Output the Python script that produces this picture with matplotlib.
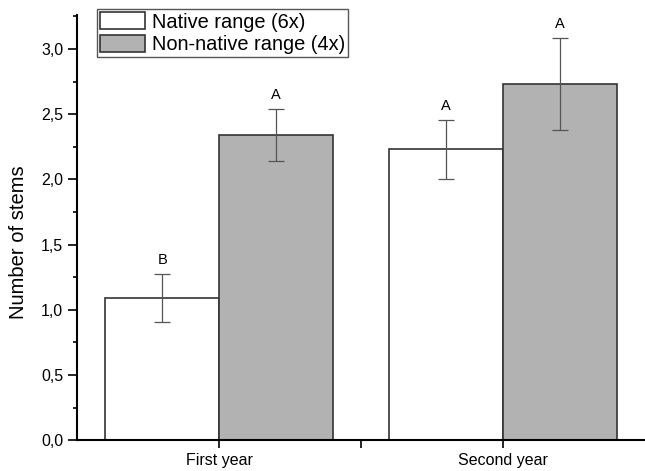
import matplotlib.pyplot as plt
from matplotlib.ticker import MultipleLocator, FuncFormatter

plt.rcParams['font.family'] = ['Liberation Sans', 'DejaVu Sans']

# data
years = ['First year', 'Second year']
native = [1.09, 2.23]
native_err = [0.187, 0.225]
nonnative = [2.34, 2.73]
nonnative_err = [0.199, 0.354]
native_letters = ['B', 'A']
nonnative_letters = ['A', 'A']

fig = plt.figure(figsize=(6.45, 4.71), dpi=100)
ax = fig.add_axes([77 / 645, 30.7 / 471, 568 / 645, 425.3 / 471])

x = [1, 2]
w = 0.4
xn = [i - w / 2 for i in x]
xo = [i + w / 2 for i in x]

ax.bar(xn, native, w, color='white', edgecolor='#333333', linewidth=1.2,
       label='Native range (6x)', zorder=2)
ax.bar(xo, nonnative, w, color='#b2b2b2', edgecolor='#333333', linewidth=1.2,
       label='Non-native range (4x)', zorder=2)

ekw = dict(fmt='none', ecolor='#555555', elinewidth=0.9, capsize=5.5, capthick=0.9, zorder=3)
ax.errorbar(xn, native, yerr=native_err, **ekw)
ax.errorbar(xo, nonnative, yerr=nonnative_err, **ekw)

# significance letters
for xs, ys, es, ls in [(xn, native, native_err, native_letters),
                       (xo, nonnative, nonnative_err, nonnative_letters)]:
    for xi, yi, ei, li in zip(xs, ys, es, ls):
        ax.annotate(li, (xi, yi + ei), xytext=(0, 10), textcoords='offset points',
                    ha='center', va='center', fontsize=10.5)

ax.set_xlim(0.5, 2.5)
ax.set_ylim(0, 3.26)
ax.set_xticks(x)
ax.set_xticklabels(years)
ax.xaxis.set_minor_locator(MultipleLocator(0.5))
ax.set_xticks([1.5], minor=True)
ax.yaxis.set_major_locator(MultipleLocator(0.5))
ax.yaxis.set_minor_locator(MultipleLocator(0.25))
ax.yaxis.set_major_formatter(FuncFormatter(lambda v, p: f'{v:.1f}'.replace('.', ',')))

ax.tick_params(axis='both', which='major', direction='out', length=6.5, width=1.2,
               labelsize=11.5, pad=3.5)
ax.tick_params(axis='both', which='minor', direction='out', length=3.2, width=1.2)
ax.tick_params(axis='x', which='minor', length=5.8)
ax.tick_params(axis='x', which='major', length=5.8)

for s in ['top', 'right']:
    ax.spines[s].set_visible(False)
for s in ['left', 'bottom']:
    ax.spines[s].set_linewidth(1.5)

ax.set_ylabel('Number of stems', fontsize=14.5)
ax.yaxis.set_label_coords(-0.086, 0.466)

leg = ax.legend(loc='upper left', bbox_to_anchor=(96.7 / 645, 1 - 9 / 471),
                bbox_transform=fig.transFigure, borderaxespad=0, borderpad=0.15,
                fontsize=14.4, handlelength=2.25, handleheight=0.95,
                handletextpad=0.35, labelspacing=0.15, fancybox=False,
                framealpha=1, edgecolor='#555555')
leg.get_frame().set_linewidth(1.0)

fig.savefig('out.png', dpi=100)
